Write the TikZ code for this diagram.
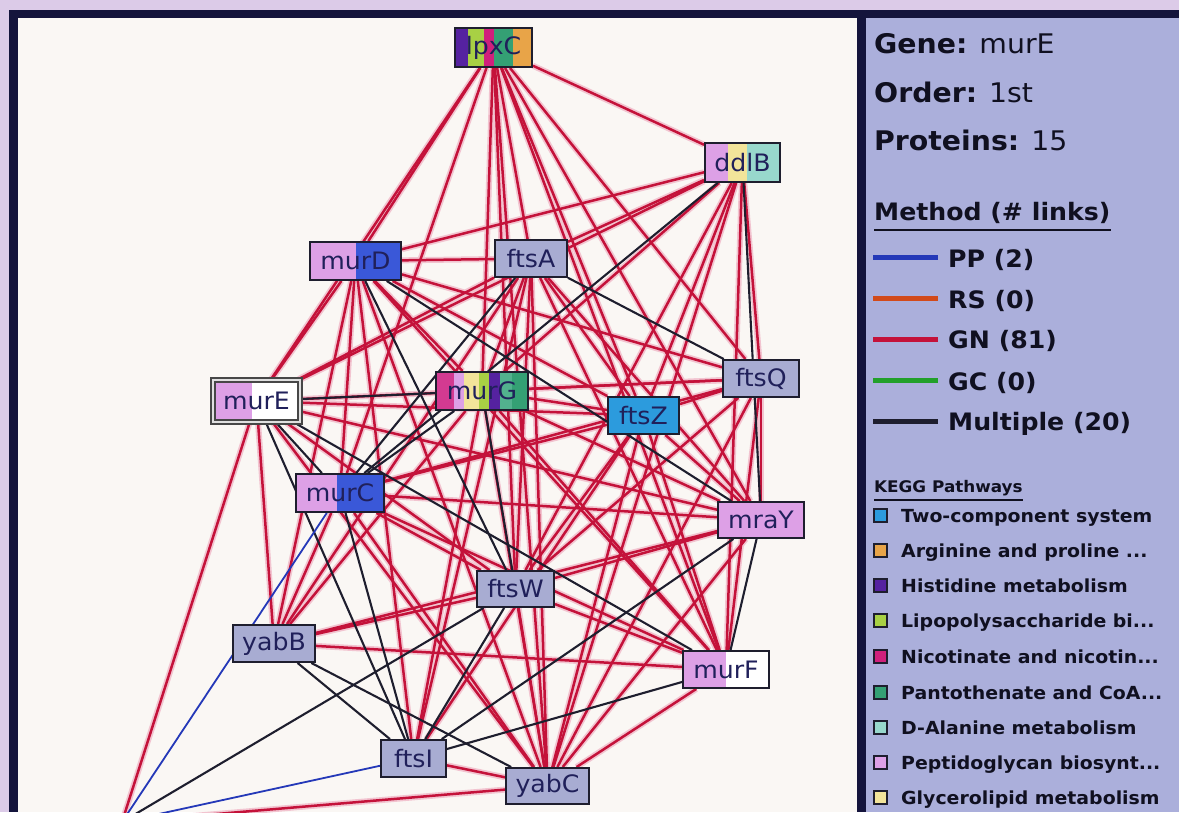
\documentclass[tikz,border=0pt]{standalone}
\usepackage{fontspec}
\setmainfont{DejaVu Sans}[FakeStretch=1.05]
\usetikzlibrary{calc}
\pgfdeclarelayer{back}
\pgfdeclarelayer{halo}
\pgfdeclarelayer{edges}
\pgfsetlayers{back,halo,edges,main}

\definecolor{outerc}{HTML}{DCCBE8}
\definecolor{framec}{HTML}{14143C}
\definecolor{panelc}{HTML}{FAF7F4}
\definecolor{legendc}{HTML}{ABAFDB}
\definecolor{gnc}{HTML}{C4123A}
\definecolor{haloc}{HTML}{F2C4D0}
\definecolor{muc}{HTML}{1E1E2E}
\definecolor{ppc}{HTML}{2438B8}
\definecolor{rsc}{HTML}{D24A1A}
\definecolor{gcc}{HTML}{22A02A}
\definecolor{greyc}{HTML}{A8ACD2}
\definecolor{pepc}{HTML}{DDA0E6}
\definecolor{mbluec}{HTML}{3A58D8}
\definecolor{twoc}{HTML}{2C9BDD}
\definecolor{argc}{HTML}{E8A448}
\definecolor{hisc}{HTML}{5522A0}
\definecolor{lipc}{HTML}{A8D044}
\definecolor{nicc}{HTML}{D0207C}
\definecolor{panc}{HTML}{34A074}
\definecolor{dalc}{HTML}{98D8CC}
\definecolor{glyc}{HTML}{F2E49A}
\definecolor{ntextc}{HTML}{20205A}
\definecolor{ltextc}{HTML}{101020}

\newcommand\stripe[3]{\fill[#1] ($(path picture bounding box.south west)!#2!(path picture bounding box.south east)$) rectangle ($(path picture bounding box.north west)!#3!(path picture bounding box.north east)$);}

\begin{document}
\begin{tikzpicture}[x=1pt,y=-1pt,
  gbox/.style={draw=muc, line width=1.9pt, fill=greyc, text=ntextc,
    font=\fontsize{24}{24}\selectfont, inner sep=0pt},
  gnline/.style={draw=gnc, line width=2.5pt},
  haloline/.style={draw=haloc, line width=6pt},
  muline/.style={draw=muc, line width=2.1pt},
  ppline/.style={draw=ppc, line width=1.8pt},
  bigtxt/.style={anchor=base west, inner sep=0pt, text=ltextc, font=\fontsize{27}{30}\selectfont},
  midtxt/.style={anchor=base west, inner sep=0pt, text=ltextc, font=\fontsize{24}{26}\selectfont\bfseries},
  smalltxt/.style={anchor=base west, inner sep=0pt, text=ltextc, font=\fontsize{18}{20}\selectfont\bfseries},
  swatch/.style={draw=muc, line width=1.7pt, minimum width=13.5pt, minimum height=13.5pt, inner sep=0pt}
]
\useasboundingbox (0,0) rectangle (1179,812);
\begin{pgfonlayer}{back}
  \fill[outerc] (0,0) rectangle (1179,812);
  \fill[framec] (9,10) rectangle (1179,812);
  \fill[panelc] (18,18) rectangle (857,812);
  \fill[legendc] (866,18) rectangle (1179,812);
\end{pgfonlayer}

% ---------- nodes ----------
\node[gbox, minimum width=77pt, minimum height=39pt, path picture={\stripe{hisc}{0}{0.17}\stripe{lipc}{0.17}{0.38}\stripe{nicc}{0.38}{0.5}\stripe{panc}{0.5}{0.75}\stripe{argc}{0.75}{1}}] (lpx) at (493.5,47.5) {lpxC};
\node[gbox, minimum width=75pt, minimum height=39pt, path picture={\stripe{pepc}{0}{0.31}\stripe{glyc}{0.31}{0.56}\stripe{dalc}{0.56}{1}}] (ddl) at (742.5,162.5) {ddlB};
\node[gbox, minimum width=91pt, minimum height=38pt, path picture={\stripe{pepc}{0}{0.5}\stripe{mbluec}{0.5}{1}}] (murD) at (355.5,261) {murD};
\node[gbox, minimum width=72pt, minimum height=37pt] (ftsA) at (531,258.5) {ftsA};
\node[gbox, draw=black!72, line width=1.9pt, double=white!88!black, double distance=2.4pt, minimum width=87pt, minimum height=42pt, fill=white, path picture={\stripe{pepc}{0}{0.45}}] (murE) at (256.5,401) {murE};
\node[gbox, minimum width=92pt, minimum height=38pt, path picture={\stripe{nicc!80!pepc}{0}{0.2}\stripe{pepc}{0.2}{0.3}\stripe{glyc}{0.3}{0.47}\stripe{lipc}{0.47}{0.58}\stripe{hisc}{0.58}{0.7}\stripe{panc!70!dalc}{0.7}{0.83}\stripe{panc}{0.83}{1}}] (murG) at (482,391) {murG};
\node[gbox, minimum width=76pt, minimum height=37pt] (ftsQ) at (761,378.5) {ftsQ};
\node[gbox, minimum width=71pt, minimum height=37pt, fill=twoc] (ftsZ) at (643.5,415.5) {ftsZ};
\node[gbox, minimum width=88pt, minimum height=38pt, path picture={\stripe{pepc}{0}{0.47}\stripe{mbluec}{0.47}{1}}] (murC) at (340,493) {murC};
\node[gbox, minimum width=86pt, minimum height=36pt, fill=pepc] (mraY) at (761,520) {mraY};
\node[gbox, minimum width=77pt, minimum height=36pt] (ftsW) at (515.5,589) {ftsW};
\node[gbox, minimum width=82pt, minimum height=37pt] (yabB) at (274,643.5) {yabB};
\node[gbox, minimum width=86pt, minimum height=37pt, fill=white, path picture={\stripe{pepc}{0}{0.5}}] (murF) at (726,669.5) {murF};
\node[gbox, minimum width=65pt, minimum height=37pt] (ftsI) at (413.5,758.5) {ftsI};
\node[gbox, minimum width=83pt, minimum height=36pt] (yabC) at (547.5,786) {yabC};
\coordinate (hid) at (122,822);

% ---------- edges ----------
\def\rededges{lpx/ddl, lpx/murD, lpx/ftsA, lpx/murE, lpx/murG, lpx/ftsQ, lpx/ftsZ, lpx/murC, lpx/mraY, lpx/ftsW, lpx/murF, lpx/yabC,
  ddl/murD, ddl/ftsA, ddl/murE, ddl/murG, ddl/ftsQ, ddl/ftsZ, ddl/ftsW, ddl/murF, ddl/yabC,
  murD/ftsA, murD/murE, murD/murG, murD/ftsQ, murD/ftsZ, murD/murC, murD/yabB, murD/murF, murD/ftsI, murD/yabC,
  ftsA/murE, ftsA/murG, ftsA/ftsZ, ftsA/mraY, ftsA/ftsW, ftsA/yabB, ftsA/murF, ftsA/ftsI, ftsA/yabC,
  murE/ftsQ, murE/ftsZ, murE/mraY, murE/ftsW, murE/yabB, murE/yabC,
  murG/ftsQ, murG/ftsZ, murG/mraY, murG/yabB, murG/murF, murG/ftsI, murG/yabC,
  ftsQ/ftsZ, ftsQ/murC, ftsQ/mraY, ftsQ/ftsW, ftsQ/murF, ftsQ/yabC,
  ftsZ/murC, ftsZ/mraY, ftsZ/ftsW, ftsZ/murF, ftsZ/ftsI, ftsZ/yabC,
  murC/mraY, murC/ftsW, murC/yabB, murC/murF, murC/yabC,
  mraY/ftsW, mraY/yabB, mraY/yabC,
  ftsW/yabB, ftsW/murF, ftsW/yabC,
  yabB/murF, murF/yabC, ftsI/yabC,
  hid/murE, hid/yabC}
\begin{pgfonlayer}{halo}
\foreach \a/\b in \rededges \draw[haloline] (\a) -- (\b);
\end{pgfonlayer}
\begin{pgfonlayer}{edges}
\foreach \a/\b in \rededges \draw[gnline] (\a) -- (\b);
\foreach \a/\b in {murE/murG, murE/murC, murE/ftsI, murE/murF, murD/ftsW, murD/mraY, ftsA/ftsQ, ftsA/murC, ddl/mraY, ddl/murC,
  mraY/murF, mraY/ftsI, murG/ftsW, murG/murC, yabB/ftsI, yabB/yabC, murC/ftsI, ftsW/ftsI, murF/ftsI, hid/ftsW}
  \draw[muline] (\a) -- (\b);
\foreach \a/\b in {hid/murC, hid/ftsI}
  \draw[ppline] (\a) -- (\b);
\end{pgfonlayer}

% ---------- legend ----------
\node[bigtxt] (lgene) at (874,53) {\textbf{Gene:} murE};
\node[bigtxt] (lorder) at (874,102) {\textbf{Order:} 1st};
\node[bigtxt] (lprot) at (874,150) {\textbf{Proteins:} 15};
\node[midtxt] (lmeth) at (874,220) {Method (\# links)};
\draw[ltextc, line width=1.6pt] ($(lmeth.base west)+(0,10)$) -- ($(lmeth.base east)+(0,10)$);

\node[midtxt] (lpp) at (948,267) {PP (2)};
\node[midtxt] (lrs) at (948,308) {RS (0)};
\node[midtxt] (lgn) at (948,348) {GN (81)};
\node[midtxt] (lgc) at (948,390) {GC (0)};
\node[midtxt] (lmu) at (948,430) {Multiple (20)};
\draw[ppc, line width=5pt] (873,257) -- (938,257);
\draw[rsc, line width=5pt] (873,298) -- (938,298);
\draw[gnc, line width=5pt] (873,339) -- (938,339);
\draw[gcc, line width=5pt] (873,380) -- (938,380);
\draw[muc, line width=5pt] (873,421) -- (938,421);

\node[anchor=base west, inner sep=0pt, text=ltextc, font=\fontsize{16}{18}\selectfont\bfseries] (lkegg) at (874,492) {KEGG Pathways};
\draw[ltextc, line width=1.4pt] ($(lkegg.base west)+(0,8)$) -- ($(lkegg.base east)+(0,8)$);

\node[swatch, fill=twoc] (s1) at (880.5,515.5) {};
\node[swatch, fill=argc] (s2) at (880.5,550.5) {};
\node[swatch, fill=hisc] (s3) at (880.5,585.5) {};
\node[swatch, fill=lipc] (s4) at (880.5,620.5) {};
\node[swatch, fill=nicc] (s5) at (880.5,656.5) {};
\node[swatch, fill=panc] (s6) at (880.5,692.5) {};
\node[swatch, fill=dalc] (s7) at (880.5,727.5) {};
\node[swatch, fill=pepc] (s8) at (880.5,762.5) {};
\node[swatch, fill=glyc] (s9) at (880.5,797.5) {};
\node[smalltxt] (t1) at (901,522) {Two-component system};
\node[smalltxt] (t2) at (901,557) {Arginine and proline ...};
\node[smalltxt] (t3) at (901,592) {Histidine metabolism};
\node[smalltxt] (t4) at (901,627) {Lipopolysaccharide bi...};
\node[smalltxt] (t5) at (901,663) {Nicotinate and nicotin...};
\node[smalltxt] (t6) at (901,699) {Pantothenate and CoA...};
\node[smalltxt] (t7) at (901,734) {D-Alanine metabolism};
\node[smalltxt] (t8) at (901,769) {Peptidoglycan biosynt...};
\node[smalltxt] (t9) at (901,804) {Glycerolipid metabolism};
\end{tikzpicture}
\end{document}
